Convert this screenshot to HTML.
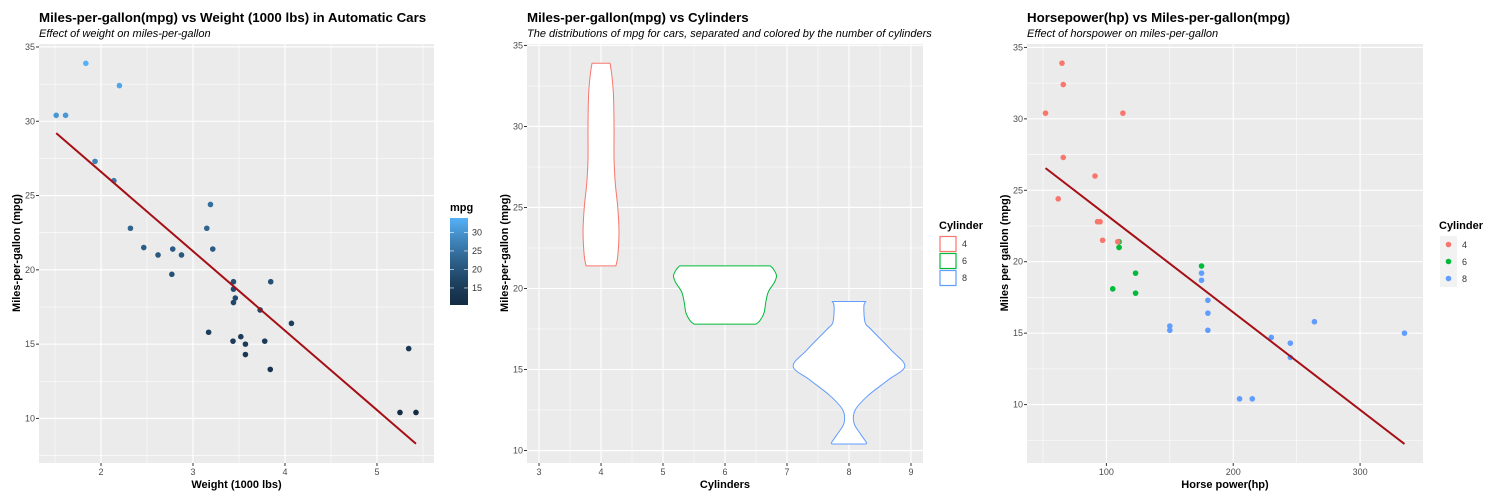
<!DOCTYPE html>
<html><head><meta charset="utf-8"><style>
body{margin:0;background:#fff;}
svg{display:block;font-family:"Liberation Sans",Arial,sans-serif;}
</style></head><body>
<svg id="c" width="1500" height="500" xmlns="http://www.w3.org/2000/svg"></svg>
<script>
const wt=[2.620,2.875,2.320,3.215,3.440,3.460,3.570,3.190,3.150,3.440,3.440,4.070,3.730,3.780,5.250,5.424,5.345,2.200,1.615,1.835,2.465,3.520,3.435,3.840,3.845,1.935,2.140,1.513,3.170,2.770,3.570,2.780];
const mpg=[21.0,21.0,22.8,21.4,18.7,18.1,14.3,24.4,22.8,19.2,17.8,16.4,17.3,15.2,10.4,10.4,14.7,32.4,30.4,33.9,21.5,15.5,15.2,13.3,19.2,27.3,26.0,30.4,15.8,19.7,15.0,21.4];
const hp=[110,110,93,110,175,105,245,62,95,123,123,180,180,180,205,215,230,66,52,65,97,150,150,245,175,66,91,113,264,175,335,109];
const cyl=[6,6,4,6,8,6,8,4,4,6,6,8,8,8,8,8,8,4,4,4,4,8,8,8,8,4,4,4,8,6,8,4];
const cylLevels=[4,6,8];
const cylColors=["#F8766D","#00BA38","#619CFF"];
// violin density profiles: [mpg, half-width in cylinder units]
const violin4=[[21.4,0.24],[22,0.27],[23.5,0.29],[25,0.27],[26.5,0.23],[28,0.21],[30,0.21],[32,0.2],[33.3,0.17],[33.9,0.145]];
const violin6=[[17.8,0.5],[18,0.56],[18.5,0.63],[19.2,0.66],[19.8,0.7],[20.4,0.8],[20.8,0.83],[21.2,0.78],[21.4,0.73]];
const violin8=[[10.4,0.27],[10.5,0.28],[11,0.19],[11.7,0.08],[12.5,0.1],[13.4,0.31],[14.35,0.63],[15.2,0.9],[16.2,0.68],[17.5,0.35],[17.9,0.26],[18.9,0.24],[19.2,0.27]];
const fitWt=[37.285,-5.344];
const fitHp=[30.099,-0.06823];

const NS="http://www.w3.org/2000/svg";
const svg=document.getElementById('c');
function el(tag,attrs,parent){const e=document.createElementNS(NS,tag);for(const k in attrs)e.setAttribute(k,attrs[k]);(parent||svg).appendChild(e);return e;}
function lin(d0,d1,r0,r1){return v=>r0+(v-d0)/(d1-d0)*(r1-r0);}
function txt(s,attrs,name){const t=el('text',attrs);t.textContent=s;


return t;}

function panel(o){
  const g=el('g',{});
  
  
  el('rect',{x:o.x0,y:44,width:o.x1-o.x0,height:419,fill:'#EBEBEB'},g);
  o.xminor.forEach(v=>el('line',{x1:o.sx(v),x2:o.sx(v),y1:44,y2:463,stroke:'#fff','stroke-width':0.55},g));
  o.yminor.forEach(v=>el('line',{x1:o.x0,x2:o.x1,y1:o.sy(v),y2:o.sy(v),stroke:'#fff','stroke-width':0.55},g));
  o.xt.forEach(v=>{el('line',{x1:o.sx(v),x2:o.sx(v),y1:44,y2:463,stroke:'#fff','stroke-width':1.1},g);
    el('line',{x1:o.sx(v),x2:o.sx(v),y1:463,y2:466,stroke:'#333','stroke-width':1},g);
    txt(String(v),{x:o.sx(v),y:475,'font-size':9,fill:'#4D4D4D','text-anchor':'middle'},'x-tick-label');});
  o.yt.forEach(v=>{el('line',{x1:o.x0,x2:o.x1,y1:o.sy(v),y2:o.sy(v),stroke:'#fff','stroke-width':1.1},g);
    el('line',{x1:o.x0-3,x2:o.x0,y1:o.sy(v),y2:o.sy(v),stroke:'#333','stroke-width':1},g);
    txt(String(v),{x:o.x0-4,y:o.sy(v)+3,'font-size':9,fill:'#4D4D4D','text-anchor':'end'},'y-tick-label');});
  txt(o.title,{x:o.tx,y:22,'font-size':13.3,'font-weight':'bold',fill:'#000'},'plot-title');
  txt(o.sub,{x:o.tx,y:37,'font-size':11,'font-style':'italic',fill:'#000'},'plot-subtitle');
  txt(o.xl,{x:(o.x0+o.x1)/2,y:488,'font-size':11,'font-weight':'bold','text-anchor':'middle'},'x-axis-title');
  txt(o.yl,{x:0,y:0,'font-size':11,'font-weight':'bold','text-anchor':'middle',transform:`translate(${o.ylx},253) rotate(-90)`},'y-axis-title');
}
function hexLerp(a,b,t){t=Math.pow(t,1.35);const p=s=>[1,3,5].map(i=>parseInt(s.substr(i,2),16));const A=p(a),B=p(b);
return 'rgb('+A.map((v,i)=>Math.round(v+(B[i]-v)*t)).join(',')+')';}

// Panel 1
const sx1=lin(1.326,5.62,39,434), sy1=lin(7.0,35.2,463,44);
panel({name:'weight-panel',x0:39,x1:434,sx:sx1,sy:sy1,xt:[2,3,4,5],yt:[10,15,20,25,30,35],xminor:[1.5,2.5,3.5,4.5,5.5],yminor:[7.5,12.5,17.5,22.5,27.5,32.5],
 title:'Miles-per-gallon(mpg) vs Weight (1000 lbs) in Automatic Cars',sub:'Effect of weight on miles-per-gallon',tx:39,xl:'Weight (1000 lbs)',yl:'Miles-per-gallon (mpg)',ylx:20});
const mn=Math.min(...mpg),mx=Math.max(...mpg);
wt.forEach((w,i)=>{const c=el('circle',{cx:sx1(w),cy:sy1(mpg[i]),r:2.8,fill:hexLerp('#132B43','#56B1F7',(mpg[i]-mn)/(mx-mn))});

});
{const a=Math.min(...wt),b=Math.max(...wt);const l=el('line',{x1:sx1(a),y1:sy1(fitWt[0]+fitWt[1]*a),x2:sx1(b),y2:sy1(fitWt[0]+fitWt[1]*b),stroke:'#A50F15','stroke-width':2});

}
// colorbar
{const defs=el('defs',{});const lg=el('linearGradient',{id:'cb',x1:0,y1:1,x2:0,y2:0},defs);
[0,0.25,0.5,0.75,1].forEach(t=>el('stop',{offset:t,'stop-color':hexLerp('#132B43','#56B1F7',t)},lg));
const r=el('rect',{x:450,y:218,width:18,height:87,fill:'url(#cb)'});


txt('mpg',{x:450,y:211,'font-size':11,'font-weight':'bold'},'legend-title');
const cy=lin(mn,mx,305,218);
[15,20,25,30].forEach(v=>{el('line',{x1:450,x2:454,y1:cy(v),y2:cy(v),stroke:'#fff','stroke-width':0.6});el('line',{x1:464,x2:468,y1:cy(v),y2:cy(v),stroke:'#fff','stroke-width':0.6});
txt(String(v),{x:472,y:cy(v)+3,'font-size':9,fill:'#333'},'colorbar-label');});}

// Panel 2
const sx2=lin(2.806,9.194,527,923), sy2=lin(9.23,35.09,463,44);
panel({name:'cylinder-panel',x0:527,x1:923,sx:sx2,sy:sy2,xt:[3,4,5,6,7,8,9],yt:[10,15,20,25,30,35],xminor:[3.5,4.5,5.5,6.5,7.5,8.5],yminor:[12.5,17.5,22.5,27.5,32.5],
 title:'Miles-per-gallon(mpg) vs Cylinders',sub:'The distributions of mpg for cars, separated and colored by the number of cylinders',tx:527,xl:'Cylinders',yl:'Miles-per-gallon (mpg)',ylx:508});
function smooth(pts){let d='M'+pts[0].join(',');for(let i=0;i<pts.length-1;i++){const p0=pts[i-1]||pts[i],p1=pts[i],p2=pts[i+1],p3=pts[i+2]||p2;
d+=` C${p1[0]+(p2[0]-p0[0])/6},${p1[1]+(p2[1]-p0[1])/6} ${p2[0]-(p3[0]-p1[0])/6},${p2[1]-(p3[1]-p1[1])/6} ${p2[0]},${p2[1]}`;}return d;}
[[4,violin4],[6,violin6],[8,violin8]].forEach(([c,prof],k)=>{
  const R=prof.map(p=>[sx2(c+p[1]),sy2(p[0])]);
  const L=prof.slice().reverse().map(p=>[sx2(c-p[1]),sy2(p[0])]);
  let d=smooth(R)+' L'+L[0].join(',')+smooth(L).slice(1).replace(/^[^C]*/,' ')+' Z';
  const p=el('path',{d:d,fill:'#fff',stroke:cylColors[k],'stroke-width':1});
  
  
});
txt('Cylinder',{x:939,y:229,'font-size':11,'font-weight':'bold'},'legend-title');
cylLevels.forEach((c,k)=>{const y=236+k*17;const r=el('rect',{x:940,y:y+0.5,width:16,height:15,fill:'#fff',stroke:cylColors[k],'stroke-width':1.2});


txt(String(c),{x:962,y:y+11,'font-size':9,fill:'#333'},'legend-label');});

// Panel 3
const sx3=lin(37.4,349.6,1027,1423), sy3=lin(5.91,35.24,463,44);
panel({name:'horsepower-panel',x0:1027,x1:1423,sx:sx3,sy:sy3,xt:[100,200,300],yt:[10,15,20,25,30,35],xminor:[50,150,250],yminor:[7.5,12.5,17.5,22.5,27.5,32.5],
 title:'Horsepower(hp) vs Miles-per-gallon(mpg)',sub:'Effect of horspower on miles-per-gallon',tx:1027,xl:'Horse power(hp)',yl:'Miles per gallon (mpg)',ylx:1008});
hp.forEach((h,i)=>{const c=el('circle',{cx:sx3(h),cy:sy3(mpg[i]),r:2.8,fill:cylColors[cylLevels.indexOf(cyl[i])]});

});
{const a=Math.min(...hp),b=Math.max(...hp);const l=el('line',{x1:sx3(a),y1:sy3(fitHp[0]+fitHp[1]*a),x2:sx3(b),y2:sy3(fitHp[0]+fitHp[1]*b),stroke:'#A50F15','stroke-width':2});

}
txt('Cylinder',{x:1439,y:229,'font-size':11,'font-weight':'bold'},'legend-title');
cylLevels.forEach((c,k)=>{const y=236+k*17;el('rect',{x:1440,y:y,width:17,height:17,fill:'#F2F2F2'});
const d=el('circle',{cx:1448.5,cy:y+8.5,r:2.8,fill:cylColors[k]});


txt(String(c),{x:1462,y:y+12,'font-size':9,fill:'#333'},'legend-label');});
</script>
</body></html>
